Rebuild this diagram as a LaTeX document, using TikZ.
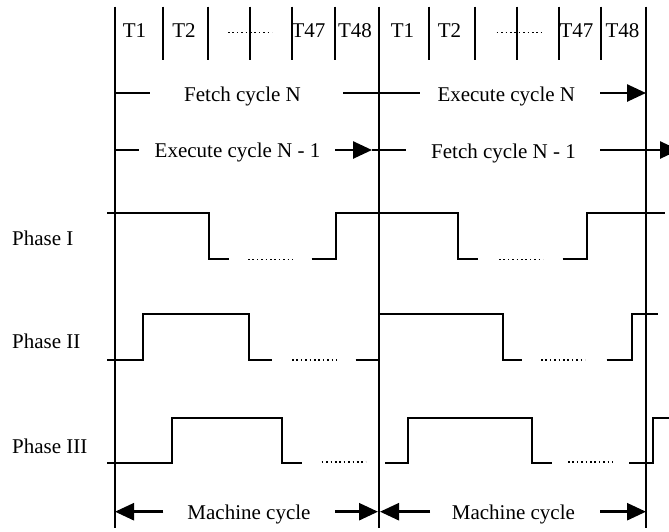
\documentclass[tikz,border=0pt]{standalone}
\usepackage{fontspec}
\setmainfont{Liberation Serif}
\usetikzlibrary{arrows.meta}
\begin{document}
\begin{tikzpicture}[x=1pt,y=-1pt,
  lbl/.style={inner sep=0pt, anchor=base, font=\fontsize{21}{25}\selectfont},
  side/.style={lbl, anchor=base west},
  wire/.style={line width=1.7pt},
  rule/.style={line width=2pt},
  sig/.style={line width=1.9pt, line join=miter},
  dots/.style={line width=1.6pt, dash pattern=on 1.6pt off 2.8pt},
  span/.style={line width=2.6pt, -{Triangle[length=19pt,width=17pt]}}]
\useasboundingbox (0,0) rectangle (669,531);

% cycle boundaries
\coordinate (b0) at (115,0);
\coordinate (b1) at (379,0);
\coordinate (b2) at (646,0);
\foreach \b in {b0,b1,b2}
  \draw[wire] (\b |- 0,6.7) -- (\b |- 0,528);

% T-state separators
\foreach \x in {162.7,208.3,250,292.3,335,429.3,475.3,516.7,559,601}
  \draw[rule] (\x,6.7) -- (\x,60);

% T-state labels
\node[lbl] (t1a)  at (134.5,37.7) {T1};
\node[lbl] (t2a)  at (184,37.7)   {T2};
\node[lbl] (t47a) at (308.5,37.7) {T47};
\node[lbl] (t48a) at (355,37.7)   {T48};
\node[lbl] (t1b)  at (402.5,37.7) {T1};
\node[lbl] (t2b)  at (449.5,37.7) {T2};
\node[lbl] (t47b) at (576.5,37.7) {T47};
\node[lbl] (t48b) at (622.5,37.7) {T48};
\draw[dots] (228,32.3) -- (272,32.3);
\draw[dots] (496.7,32.3) -- (541.7,32.3);

% fetch / execute overlap
\node[lbl] (fN)   at (242.5,101.7) {Fetch cycle N};
\node[lbl] (eN)   at (506.3,101.2) {Execute cycle N};
\node[lbl] (eN1)  at (237.5,157.3) {Execute cycle N - 1};
\node[lbl] (fN1)  at (503.5,158)   {Fetch cycle N - 1};

\coordinate (r1a) at (150,93);
\coordinate (r1b) at (343,93);
\coordinate (r1c) at (420,93);
\coordinate (r1d) at (600,93);
\draw[rule] (b0 |- r1a) -- (r1a);
\draw[rule] (r1b) -- (r1c);
\draw[span] (r1d) -- (b2 |- r1d);

\coordinate (r2a) at (139,150);
\coordinate (r2b) at (335,150);
\coordinate (r2t) at (372,150);
\coordinate (r2c) at (406,150);
\coordinate (r2d) at (600,150);
\coordinate (r2e) at (679,150);
\draw[rule] (b0 |- r2a) -- (r2a);
\draw[span] (r2b) -- (r2t);
\draw[rule] (r2t) -- (r2c);
\draw[span] (r2d) -- (r2e);

% phase labels
\node[side] (p1) at (12,245)   {Phase I};
\node[side] (p2) at (12,348.3) {Phase II};
\node[side] (p3) at (12,453.3) {Phase III};

% Phase I waveform
\draw[sig] (107,213.3) -- (209.3,213.3) -- (209.3,259.3) -- (229,259.3);
\draw[dots] (248,259.3) -- (293,259.3);
\draw[sig] (311.7,259.3) -- (336,259.3) -- (336,213.3) -- (458.3,213.3)
           -- (458.3,259.3) -- (478,259.3);
\draw[dots] (499,259.3) -- (543,259.3);
\draw[sig] (562.7,259.3) -- (586.7,259.3) -- (586.7,213.3) -- (665,213.3);

% Phase II waveform
\draw[sig] (107,360) -- (143.3,360) -- (143.3,314) -- (249,314)
           -- (249,360) -- (272.3,360);
\draw[dots] (292,360) -- (337,360);
\draw[sig] (355.7,360) -- (379.3,360) -- (379.3,314) -- (502.7,314)
           -- (502.7,360) -- (522,360);
\draw[dots] (541,360) -- (585,360);
\draw[sig] (606.7,360) -- (632.3,360) -- (632.3,314) -- (658.3,314);

% Phase III waveform
\draw[sig] (107,463.3) -- (171.7,463.3) -- (171.7,418.3) -- (282.3,418.3)
           -- (282.3,463.3) -- (301.7,463.3);
\draw[dots] (321.7,462) -- (365.7,462);
\draw[sig] (385,463.3) -- (408.3,463.3) -- (408.3,418.3) -- (531.7,418.3)
           -- (531.7,463.3) -- (551.7,463.3);
\draw[dots] (568,462) -- (613,462);
\draw[sig] (629.3,463.3) -- (653.3,463.3) -- (653.3,418.3) -- (672,418.3);

% machine cycles
\node[lbl] (mc1) at (249,519)   {Machine cycle};
\node[lbl] (mc2) at (513.4,519) {Machine cycle};
\coordinate (m1a) at (163.3,511.7);
\coordinate (m1b) at (335,511.7);
\coordinate (m2a) at (430,511.7);
\coordinate (m2b) at (600,511.7);
\draw[span] (m1a) -- (b0 |- m1a);
\draw[span] (m1b) -- (378,511.7);
\draw[span] (m2a) -- (380,511.7);
\draw[span] (m2b) -- (b2 |- m2b);
\end{tikzpicture}
\end{document}
